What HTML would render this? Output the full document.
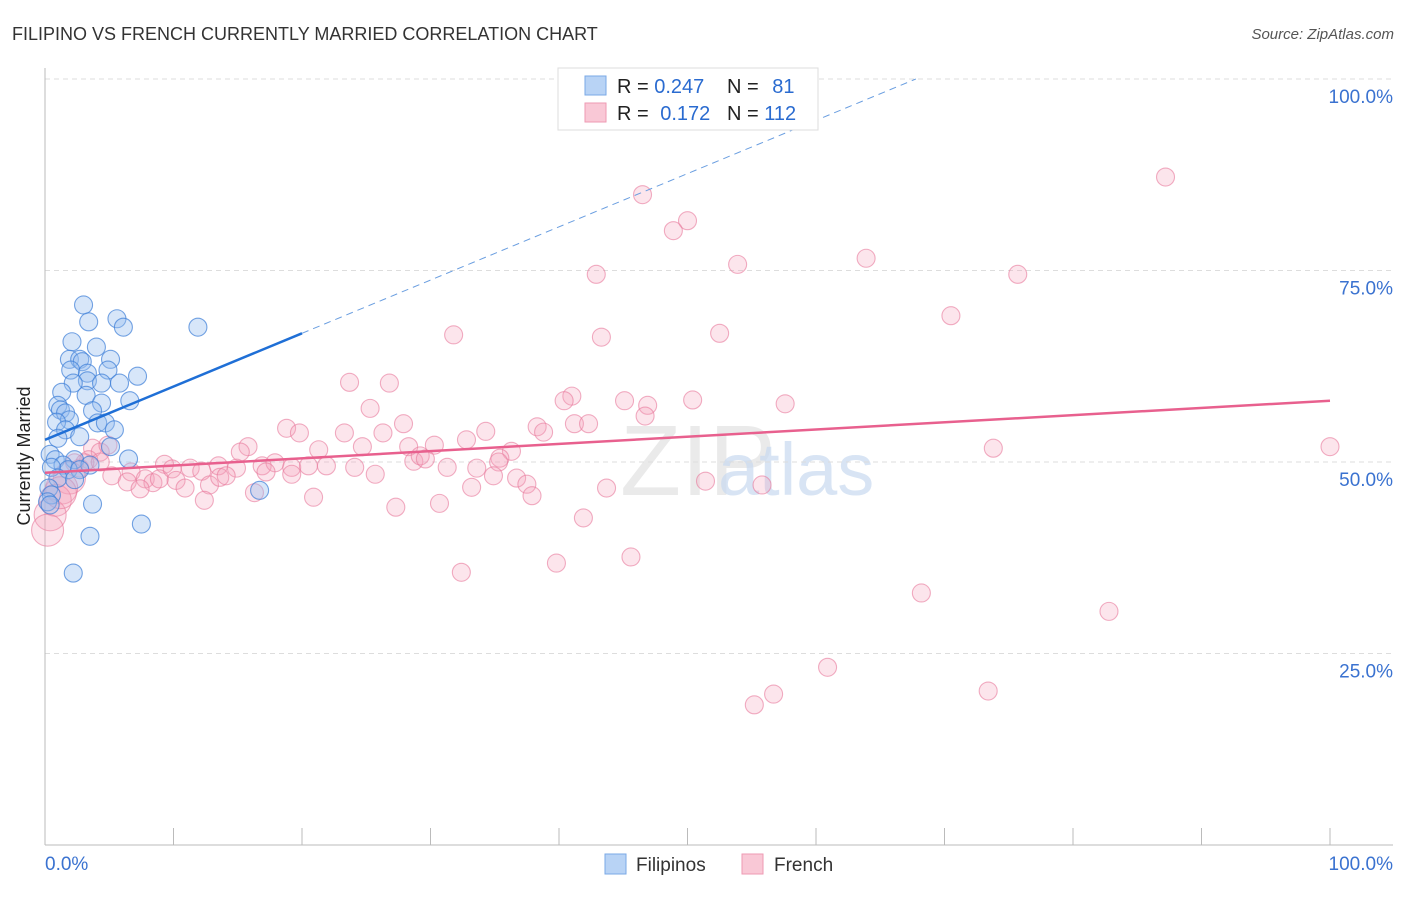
<!DOCTYPE html>
<html><head><meta charset="utf-8"><style>
body{margin:0;background:#fff;font-family:"Liberation Sans",sans-serif;}
svg text{font-family:"Liberation Sans",sans-serif;}
</style></head><body>
<svg width="1406" height="892">
<text x="12" y="40" font-size="18" fill="#333">FILIPINO VS FRENCH CURRENTLY MARRIED CORRELATION CHART</text>
<text x="1394" y="39" font-size="15" fill="#555" text-anchor="end" font-style="italic">Source: ZipAtlas.com</text>
<text x="30" y="456" font-size="18" fill="#222" text-anchor="middle" transform="rotate(-90 30 456)">Currently Married</text>
<text x="620" y="495" font-size="100" fill="#ddd" font-family="Liberation Serif" opacity="0.6">ZIP</text>
<text x="718" y="495" font-size="74" fill="#c8daf0" opacity="0.7">atlas</text>
<g id="grid"></g><g id="axes"></g><g id="pts"></g><g id="lines"></g>
<g>
<rect x="558" y="68" width="260" height="62" fill="#fff" stroke="#ddd"/>
<rect x="585" y="76" width="21" height="19" fill="#b8d3f5" stroke="#7aa8e6"/>
<rect x="585" y="103" width="21" height="19" fill="#f9c8d6" stroke="#ee9ab3"/>
<text x="617" y="93" font-size="20" fill="#222">R = <tspan fill="#2a6bd0">0.247</tspan></text>
<text x="727" y="93" font-size="20" fill="#222">N = <tspan fill="#2a6bd0" dx="8">81</tspan></text>
<text x="617" y="120" font-size="20" fill="#222">R = <tspan fill="#2a6bd0" dx="6">0.172</tspan></text>
<text x="727" y="120" font-size="20" fill="#222">N = <tspan fill="#2a6bd0">112</tspan></text>
</g>
<g>
<rect x="605" y="854" width="21" height="20" fill="#b8d3f5" stroke="#7aa8e6"/>
<text x="636" y="871" font-size="19" fill="#333">Filipinos</text>
<rect x="742" y="854" width="21" height="20" fill="#f9c8d6" stroke="#ee9ab3"/>
<text x="774" y="871" font-size="19" fill="#333">French</text>
</g>
</svg>
<script>
const yTicks=[25,50,75,100];
const yTickLabels=["25.0%","50.0%","75.0%","100.0%"];
const xTicks=[0,10,20,30,40,50,60,70,80,90,100];
const blueX=[3.0,5.6,3.4,6.1,11.9,2.1,4.0,1.9,2.7,5.1,2.9,2.0,4.9,3.3,7.2,3.3,5.8,2.2,4.4,1.3,3.2,6.6,4.4,1.0,1.2,1.6,3.7,1.9,0.9,4.1,4.7,5.4,1.6,2.7,1.0,5.1,0.4,6.5,0.8,2.3,1.4,3.5,1.8,0.5,2.7,1.0,2.3,0.3,0.5,0.2,0.4,3.7,16.7,7.5,3.5,2.2];
const blueY=[70.5,68.7,68.3,67.6,67.6,65.7,65.0,63.4,63.4,63.4,63.1,62.0,62.0,61.6,61.2,60.6,60.3,60.3,60.3,59.1,58.7,58.0,57.7,57.4,56.8,56.4,56.7,55.5,55.2,55.1,55.1,54.2,54.2,53.3,53.1,52.0,51.0,50.4,50.3,50.3,49.6,49.6,49.0,49.3,49.0,47.9,47.7,46.6,45.7,44.8,44.4,44.5,46.3,41.9,40.3,35.5];
const pinkX=[46.5,87.2,50.0,48.9,63.9,53.9,42.9,75.7,70.5,31.8,52.5,43.3,23.7,26.8,41.0,40.4,45.1,50.4,46.9,57.6,25.3,18.8,19.8,27.9,23.3,26.3,41.2,42.3,38.3,46.7,34.3,38.8,15.8,15.2,21.3,24.7,28.3,30.3,32.8,36.3,35.4,100,73.8,9.3,11.3,13.5,14.9,16.9,17.9,19.2,20.5,21.9,24.1,28.7,29.2,29.6,31.3,33.6,35.3,6.7,5.2,6.4,7.8,8.4,8.9,9.9,10.2,10.9,12.2,12.8,13.6,14.1,17.2,19.2,25.7,34.9,36.7,37.5,51.4,55.8,33.2,37.9,20.9,16.3,12.4,7.4,27.3,30.7,43.7,41.9,39.8,45.6,32.4,68.2,82.8,60.9,56.7,55.2,73.4,3.7,4.3,3.4,2.7,3.1,1.9,1.3,0.8,0.4,0.2,1.2,2.3,4.3,4.9];
const pinkY=[84.9,87.2,81.5,80.2,76.6,75.8,74.5,74.5,69.1,66.6,66.8,66.3,60.4,60.3,58.6,58.0,58.0,58.1,57.4,57.6,57.0,54.4,53.8,55.0,53.8,53.8,55.0,55.0,54.6,56.0,54.0,53.9,52.0,51.3,51.6,52.0,52.0,52.2,52.9,51.4,50.5,52.0,51.8,49.7,49.2,49.5,49.2,49.5,49.9,49.3,49.5,49.5,49.3,50.1,50.8,50.4,49.3,49.2,50.0,48.7,48.2,47.4,47.8,47.3,47.8,49.1,47.6,46.6,48.8,47.0,48.0,48.2,48.7,48.4,48.4,48.2,47.9,47.1,47.5,47.0,46.7,45.6,45.4,46.0,45.0,46.5,44.1,44.6,46.6,42.7,36.8,37.6,35.6,32.9,30.5,23.2,19.7,18.3,20.1,51.8,51.3,50.3,49.2,49.9,47.9,46.6,45.0,43.1,41.1,46.0,49.9,50.0,52.2];
const blueTrend=[52.9,66.8];   // y at x=0 and x=20
const pinkTrend=[48.6,58.0];   // y at x=0 and x=100
const NS='http://www.w3.org/2000/svg';
const sx=v=>45+v*12.85, sy=v=>845-v*7.66;
function mk(p,t,a){const e=document.createElementNS(NS,t);for(const k in a)e.setAttribute(k,a[k]);p.appendChild(e);return e;}
const grid=document.getElementById('grid'),axes=document.getElementById('axes'),pts=document.getElementById('pts'),lines=document.getElementById('lines');
yTicks.forEach((v,i)=>{
 const l=mk(grid,'line',{x1:45,x2:1393,y1:sy(v),y2:sy(v),stroke:'#ddd','stroke-dasharray':'5,4'});
 
 
 const t=mk(grid,'text',{x:1393,y:sy(v)+24,'font-size':19,fill:'#3a72d0','text-anchor':'end'});t.textContent=yTickLabels[i];
 
 
});
mk(axes,'line',{x1:45,x2:45,y1:68,y2:845,stroke:'#bbb'});
mk(axes,'line',{x1:45,x2:1393,y1:845,y2:845,stroke:'#bbb'});
xTicks.forEach(v=>{const l=mk(axes,'line',{x1:sx(v),x2:sx(v),y1:828,y2:845,stroke:'#bbb'});
 
 });
let t0=mk(axes,'text',{x:45,y:870,'font-size':19,fill:'#3a72d0'});t0.textContent='0.0%';


let t1=mk(axes,'text',{x:1393,y:870,'font-size':19,fill:'#3a72d0','text-anchor':'end'});t1.textContent='100.0%';


pinkX.forEach((x,i)=>{const r=x<2?16:9;const c=mk(pts,'circle',{cx:sx(x),cy:sy(pinkY[i]),r:r,fill:'rgba(244,160,186,0.28)',stroke:'rgba(232,120,155,0.6)','stroke-width':1.1});
 
 });
blueX.forEach((x,i)=>{const c=mk(pts,'circle',{cx:sx(x),cy:sy(blueY[i]),r:9,fill:'rgba(150,190,240,0.38)',stroke:'rgba(60,125,215,0.7)','stroke-width':1.1});
 
 });
const slope=(blueTrend[1]-blueTrend[0])/20;
const xEnd=(100-blueTrend[0])/slope;
let bl=mk(lines,'line',{x1:sx(0),y1:sy(blueTrend[0]),x2:sx(20),y2:sy(blueTrend[1]),stroke:'#1f6fd6','stroke-width':2.5});


let bd=mk(lines,'line',{x1:sx(20),y1:sy(blueTrend[1]),x2:sx(xEnd),y2:sy(100),stroke:'#6a9ee0','stroke-width':1,'stroke-dasharray':'7,5'});


let pl=mk(lines,'line',{x1:sx(0),y1:sy(pinkTrend[0]),x2:sx(100),y2:sy(pinkTrend[1]),stroke:'#e8608e','stroke-width':2.5});


</script>
</body></html>
